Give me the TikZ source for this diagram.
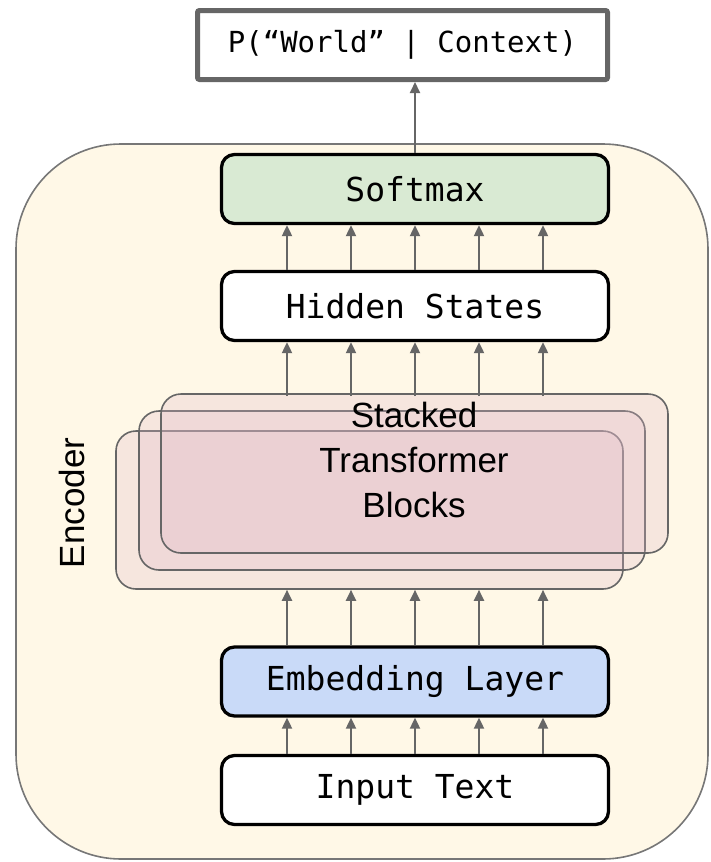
\documentclass[tikz,border=0pt]{standalone}
\usepackage{fontspec}
\setmainfont{Liberation Sans}
\newfontfamily\monofont{DejaVu Sans Mono}
\usetikzlibrary{arrows.meta}
\definecolor{cream}{HTML}{FFF8E7}
\definecolor{greenbox}{HTML}{D9EAD3}
\definecolor{bluebox}{HTML}{C9DAF8}
\definecolor{pinkbox}{HTML}{E0B8C8}
\definecolor{edgegray}{HTML}{666666}
\definecolor{encgray}{HTML}{777777}
\tikzset{
  layerbox/.style={draw=black, line width=3.3pt, rounded corners=13pt,
    minimum width=387pt, minimum height=69pt, inner sep=0pt,
    font=\monofont\fontsize{33}{40}\selectfont},
  stackbox/.style={draw=edgegray, line width=1.6pt, rounded corners=20pt,
    fill=pinkbox, fill opacity=0.27, draw opacity=1, inner sep=0pt},
  arr/.style={draw=edgegray, line width=2pt,
    -{Triangle[length=11pt,width=10pt]}},
}
\begin{document}
\begin{tikzpicture}[x=1pt,y=-1pt]
\useasboundingbox (0,0) rectangle (710,862);
% encoder region
\draw[encgray, line width=1.6pt, fill=cream, rounded corners=105pt]
  (16,144) rectangle (708,859);
\node[rotate=90, font=\fontsize{35}{40}\selectfont] (enc) at (72,503) {Encoder};
% top output box
\node[draw=edgegray, line width=5pt, rounded corners=2pt, fill=white,
  minimum width=410pt, minimum height=69pt, inner sep=0pt,
  font=\monofont\fontsize{29}{35}\selectfont] (out) at (402.5,45) {P(“World” | Context)};
% layers
\node[layerbox, fill=greenbox] (soft) at (415,189) {Softmax};
\node[layerbox, fill=white] (hid) at (415,306) {Hidden States};
\node[layerbox, fill=bluebox] (emb) at (415,681.5) {Embedding Layer};
\node[layerbox, fill=white] (inp) at (415,790) {Input Text};
% stacked transformer blocks
\node[stackbox, minimum width=507pt, minimum height=158pt] (s3) at (369.5,510) {};
\node[stackbox, minimum width=506pt, minimum height=159pt] (s2) at (392,490.5) {};
\node[stackbox, minimum width=507pt, minimum height=159pt] (s1) at (414.5,473.5) {};
\node[align=center, font=\fontsize{35}{45}\selectfont] (stxt) at (414,460)
  {Stacked\\Transformer\\Blocks};
% column coordinates
\coordinate (c1) at (287,0);
\coordinate (c2) at (351,0);
\coordinate (c3) at (415,0);
\coordinate (c4) at (479,0);
\coordinate (c5) at (543,0);
% arrows
\draw[arr] (soft.north -| c3) -- (out.south -| c3);
\foreach \c in {c1,c2,c3,c4,c5}{
  \draw[arr] (hid.north -| \c) -- (soft.south -| \c);
  \draw[arr] ([yshift=-3pt]s1.north -| \c) -- (hid.south -| \c);
  \draw[arr] (emb.north -| \c) -- (s3.south -| \c);
  \draw[arr] (inp.north -| \c) -- (emb.south -| \c);
}
\end{tikzpicture}
\end{document}
